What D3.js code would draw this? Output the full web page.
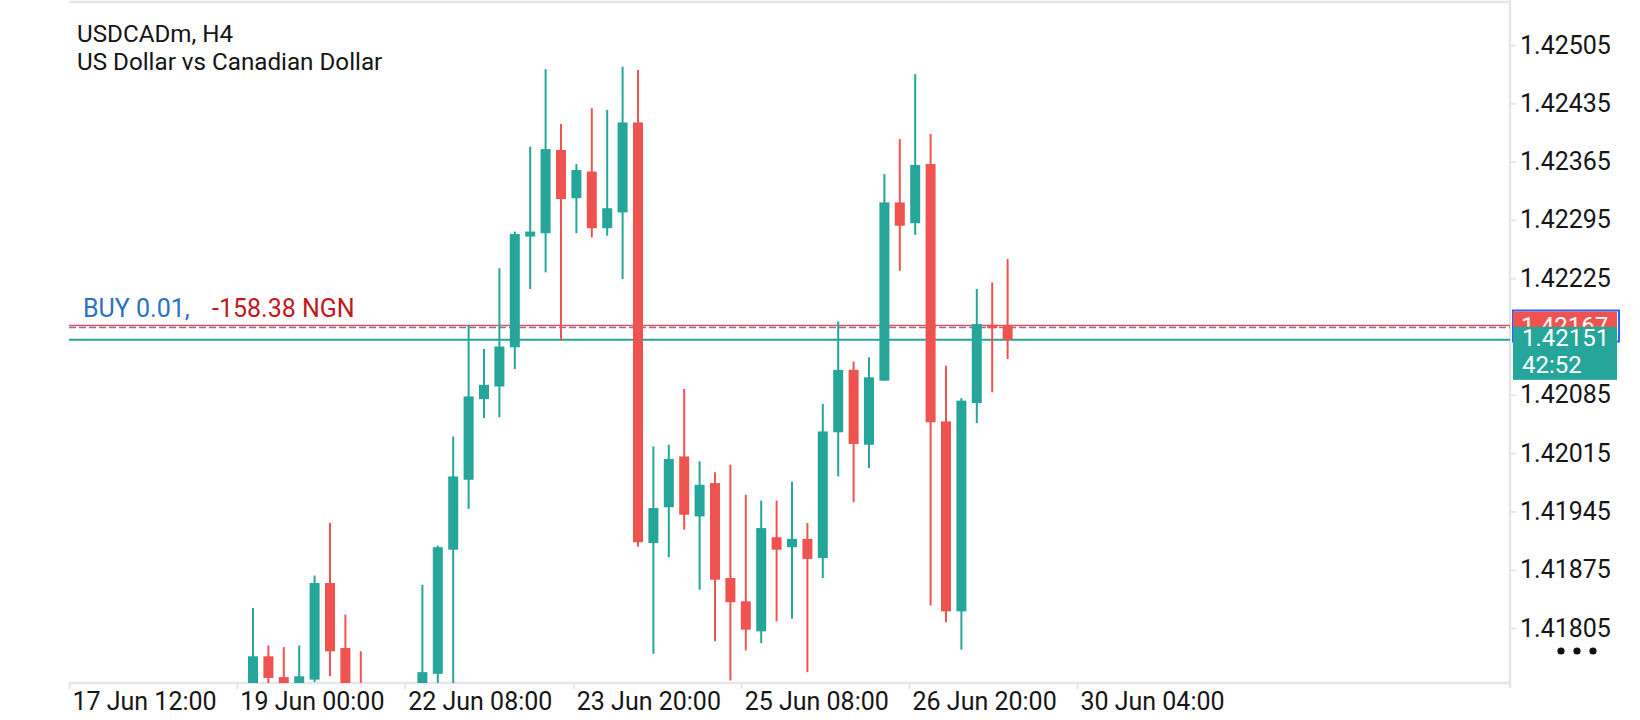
<!DOCTYPE html>
<html>
<head>
<meta charset="utf-8">
<script src="https://cdn.jsdelivr.net/npm/d3@7"></script>
<style>
    body { margin: 0; background: #ffffff; }
    svg { display: block; font-family: Roboto, "Noto Sans", sans-serif; }
</style>
</head>
<body>
<div id="chart"></div>
<script>
// H4 candles, oldest on the left (the first few are clipped by the bottom of the window)
const opens  = [1.41720, 1.41771, 1.41746, 1.41725, 1.41743, 1.41859, 1.41781, 1.41732, 1.41718, 1.41700,
                1.41710, 1.41722, 1.41750, 1.41899, 1.41983, 1.42080, 1.42095, 1.42142, 1.42275, 1.42279,
                1.42379, 1.42321, 1.42353, 1.42285, 1.42304, 1.42412, 1.41907, 1.41950, 1.42011, 1.41939,
                1.41979, 1.41865, 1.41837, 1.41801, 1.41914, 1.41902, 1.41912, 1.41889, 1.42040, 1.42115,
                1.42025, 1.42102, 1.42316, 1.42291, 1.42362, 1.42053, 1.41825, 1.42075, 1.42169, 1.42168];
const highs  = [1.41829, 1.41784, 1.41782, 1.41784, 1.41868, 1.41931, 1.41821, 1.41777, 1.41730, 1.41725,
                1.41732, 1.41857, 1.41904, 1.42035, 1.42169, 1.42140, 1.42237, 1.42281, 1.42383, 1.42476,
                1.42410, 1.42362, 1.42429, 1.42427, 1.42479, 1.42475, 1.42023, 1.42025, 1.42092, 1.42005,
                1.41992, 1.42001, 1.41965, 1.41958, 1.41958, 1.41981, 1.41931, 1.42074, 1.42173, 1.42125,
                1.42130, 1.42350, 1.42392, 1.42470, 1.42398, 1.42120, 1.42081, 1.42212, 1.42220, 1.42248];
const lows   = [1.41705, 1.41738, 1.41720, 1.41715, 1.41740, 1.41747, 1.41715, 1.41705, 1.41690, 1.41680,
                1.41695, 1.41710, 1.41720, 1.41728, 1.41948, 1.42057, 1.42058, 1.42116, 1.42212, 1.42232,
                1.42150, 1.42279, 1.42274, 1.42276, 1.42224, 1.41903, 1.41774, 1.41890, 1.41923, 1.41851,
                1.41789, 1.41742, 1.41778, 1.41787, 1.41813, 1.41816, 1.41752, 1.41865, 1.41987, 1.41956,
                1.41997, 1.42102, 1.42234, 1.42277, 1.41832, 1.41812, 1.41779, 1.42051, 1.42088, 1.42128];
const closes = [1.41771, 1.41745, 1.41730, 1.41747, 1.41859, 1.41777, 1.41725, 1.41720, 1.41700, 1.41710,
                1.41722, 1.41752, 1.41902, 1.41987, 1.42083, 1.42097, 1.42143, 1.42278, 1.42281, 1.42380,
                1.42320, 1.42355, 1.42285, 1.42309, 1.42412, 1.41908, 1.41949, 1.42008, 1.41941, 1.41977,
                1.41863, 1.41836, 1.41803, 1.41925, 1.41899, 1.41912, 1.41888, 1.42041, 1.42115, 1.42026,
                1.42106, 1.42316, 1.42288, 1.42361, 1.42052, 1.41825, 1.42078, 1.42170, 1.42165, 1.42151];

// price axis ticks (1.42155 is hidden behind the live price box)
const priceTicks = [1.42505, 1.42435, 1.42365, 1.42295, 1.42225, 1.42085, 1.42015, 1.41945, 1.41875, 1.41805];

// time labels and the candle slot they sit on
const timeTickSlots  = [-11.95, -1.05, 9.85, 20.8, 31.7, 42.6, 53.5];
const timeTickLabels = ["17 Jun 12:00", "19 Jun 00:00", "22 Jun 08:00", "23 Jun 20:00",
                        "25 Jun 08:00", "26 Jun 20:00", "30 Jun 04:00"];

const symbolName = "USDCADm, H4";
const symbolDesc = "US Dollar vs Canadian Dollar";
const tradeSide = "BUY 0.01,";
const tradeProfit = "-158.38 NGN";
const entryPrice = 1.42167;
const bidPrice = 1.42151;
const barTimer = "42:52";

class Candle_Chart {
    constructor(parent_element) {
        this.parent_element = parent_element;
        this.up_color = "#26a69a";
        this.down_color = "#ef5350";
        this.frame_color = "#e6e6e6";
        this.initVis();
    }

    initVis() {
        this.width = 1640;
        this.height = 720;
        this.plot = {left: 69, right: 1510, top: 2, bottom: 683};

        this.svg = d3.select("#" + this.parent_element)
            .append("svg")
            .attr("width", this.width)
            .attr("height", this.height);

        // scales: x by candle slot, y by price
        this.x = d3.scaleLinear()
            .domain([0, opens.length - 1])
            .range([253, 253 + 15.4 * (opens.length - 1)]);

        this.y = d3.scaleLinear()
            .domain([1.41805, 1.42505])
            .range([628, 45]);

        this.candles = opens.map((o, i) => ({i: i, o: o, h: highs[i], l: lows[i], c: closes[i]}));

        this.svg.append("clipPath")
            .attr("id", "plot-clip")
            .append("rect")
            .attr("x", this.plot.left)
            .attr("y", this.plot.top)
            .attr("width", this.plot.right - this.plot.left)
            .attr("height", this.plot.bottom - this.plot.top);

        this.drawFrame();
        this.drawAxes();
        this.drawLines();
        this.drawCandles();
        this.drawLabels();
    }

    drawFrame() {
        const p = this.plot;
        const frame = this.svg.append("g").attr("stroke", this.frame_color).attr("stroke-width", 2.5);
        frame.append("line").attr("x1", p.left).attr("x2", p.right).attr("y1", p.top).attr("y2", p.top);
        frame.append("line").attr("x1", p.right).attr("x2", p.right).attr("y1", 0).attr("y2", p.bottom + 5);
        frame.append("line").attr("x1", p.left).attr("x2", p.right).attr("y1", p.bottom).attr("y2", p.bottom);
    }

    drawAxes() {
        // price axis on the right
        const yAxis = this.svg.append("g")
            .attr("transform", "translate(" + this.plot.right + ",0)")
            .call(d3.axisRight(this.y)
                .tickValues(priceTicks)
                .tickSize(6)
                .tickPadding(4)
                .tickFormat(d3.format(".5f")));
        yAxis.select(".domain").remove();
        yAxis.selectAll(".tick line").attr("stroke", this.frame_color).attr("stroke-width", 2);
        yAxis.selectAll(".tick text")
            .attr("font-family", "Roboto, sans-serif")
            .attr("font-size", "25px")
            .attr("fill", "#161616");

        // time axis along the bottom
        const xAxis = this.svg.append("g")
            .attr("transform", "translate(0," + this.plot.bottom + ")")
            .call(d3.axisBottom(this.x)
                .tickValues(timeTickSlots)
                .tickSize(6)
                .tickPadding(3)
                .tickFormat((d, i) => timeTickLabels[i]));
        xAxis.select(".domain").remove();
        xAxis.selectAll(".tick line").attr("stroke", this.frame_color).attr("stroke-width", 2);
        xAxis.selectAll(".tick text")
            .attr("text-anchor", "start")
            .attr("x", 3)
            .attr("font-family", "Roboto, sans-serif")
            .attr("font-size", "25px")
            .attr("fill", "#161616");
    }

    drawLines() {
        const p = this.plot;
        // entry (red) with the dashed position line just under it
        this.svg.append("line")
            .attr("x1", p.left).attr("x2", p.right)
            .attr("y1", this.y(entryPrice) - 1).attr("y2", this.y(entryPrice) - 1)
            .attr("stroke", "#e0544e").attr("stroke-width", 1.5);
        this.svg.append("line")
            .attr("x1", p.left).attr("x2", p.right)
            .attr("y1", this.y(entryPrice) + 1).attr("y2", this.y(entryPrice) + 1)
            .attr("stroke", "#8e72b8").attr("stroke-width", 1.5)
            .attr("stroke-dasharray", "7,3");
        // bid line
        this.svg.append("line")
            .attr("x1", p.left).attr("x2", p.right)
            .attr("y1", this.y(bidPrice)).attr("y2", this.y(bidPrice))
            .attr("stroke", this.up_color).attr("stroke-width", 2);
    }

    drawCandles() {
        const g = this.svg.append("g").attr("clip-path", "url(#plot-clip)");
        const color = d => d.c >= d.o ? this.up_color : this.down_color;

        g.selectAll("line.wick")
            .data(this.candles)
            .join("line")
            .attr("class", "wick")
            .attr("x1", d => this.x(d.i))
            .attr("x2", d => this.x(d.i))
            .attr("y1", d => this.y(d.h))
            .attr("y2", d => this.y(d.l))
            .attr("stroke", color)
            .attr("stroke-width", 2);

        g.selectAll("rect.body")
            .data(this.candles)
            .join("rect")
            .attr("class", "body")
            .attr("x", d => this.x(d.i) - 5)
            .attr("width", 10)
            .attr("y", d => this.y(Math.max(d.o, d.c)))
            .attr("height", d => Math.max(1.5, Math.abs(this.y(d.o) - this.y(d.c))))
            .attr("fill", color);
    }

    drawLabels() {
        const svg = this.svg;
        svg.append("text").attr("x", 77).attr("y", 42)
            .attr("font-size", "24.2px").attr("fill", "#141414").text(symbolName);
        svg.append("text").attr("x", 77).attr("y", 70)
            .attr("font-size", "24.2px").attr("fill", "#141414").text(symbolDesc);

        svg.append("text").attr("x", 83).attr("y", 317)
            .attr("font-size", "25px").attr("fill", "#2a6fc8").text(tradeSide);
        svg.append("text").attr("x", 212).attr("y", 317)
            .attr("font-size", "25px").attr("fill", "#c0191c").text(tradeProfit);

        // price boxes on the axis; the entry box sits half under the live bid box
        const bx = 1513, bw = 104;
        const ey = this.y(entryPrice), by = this.y(bidPrice);
        svg.append("rect").attr("x", bx).attr("y", ey - 16).attr("width", bw + 2).attr("height", 31)
            .attr("fill", "none").attr("stroke", "#2962ff").attr("stroke-width", 2);
        svg.append("rect").attr("x", bx).attr("y", ey - 15).attr("width", bw).attr("height", 30)
            .attr("fill", this.down_color);
        svg.append("clipPath")
            .attr("id", "entry-clip")
            .append("rect")
            .attr("x", bx).attr("y", ey - 15).attr("width", bw).attr("height", by - 13 - (ey - 15));
        svg.append("text").attr("x", bx + 8).attr("y", ey + 7)
            .attr("clip-path", "url(#entry-clip)")
            .attr("font-size", "24px").attr("fill", "#ffffff").text(d3.format(".5f")(entryPrice));
        svg.append("rect").attr("x", bx).attr("y", by - 13).attr("width", bw).attr("height", 53)
            .attr("fill", this.up_color);
        svg.append("text").attr("x", bx + 9).attr("y", by + 6)
            .attr("font-size", "24px").attr("fill", "#ffffff").text(d3.format(".5f")(bidPrice));
        svg.append("text").attr("x", bx + 9).attr("y", by + 33)
            .attr("font-size", "24px").attr("fill", "#ffffff").text(barTimer);

        // overflow menu dots
        svg.selectAll("circle.dot")
            .data([0, 1, 2])
            .join("circle")
            .attr("class", "dot")
            .attr("cx", d => 1561 + d * 16)
            .attr("cy", 651)
            .attr("r", 3.6)
            .attr("fill", "#111111");
    }
}

new Candle_Chart("chart");
</script>
</body>
</html>
